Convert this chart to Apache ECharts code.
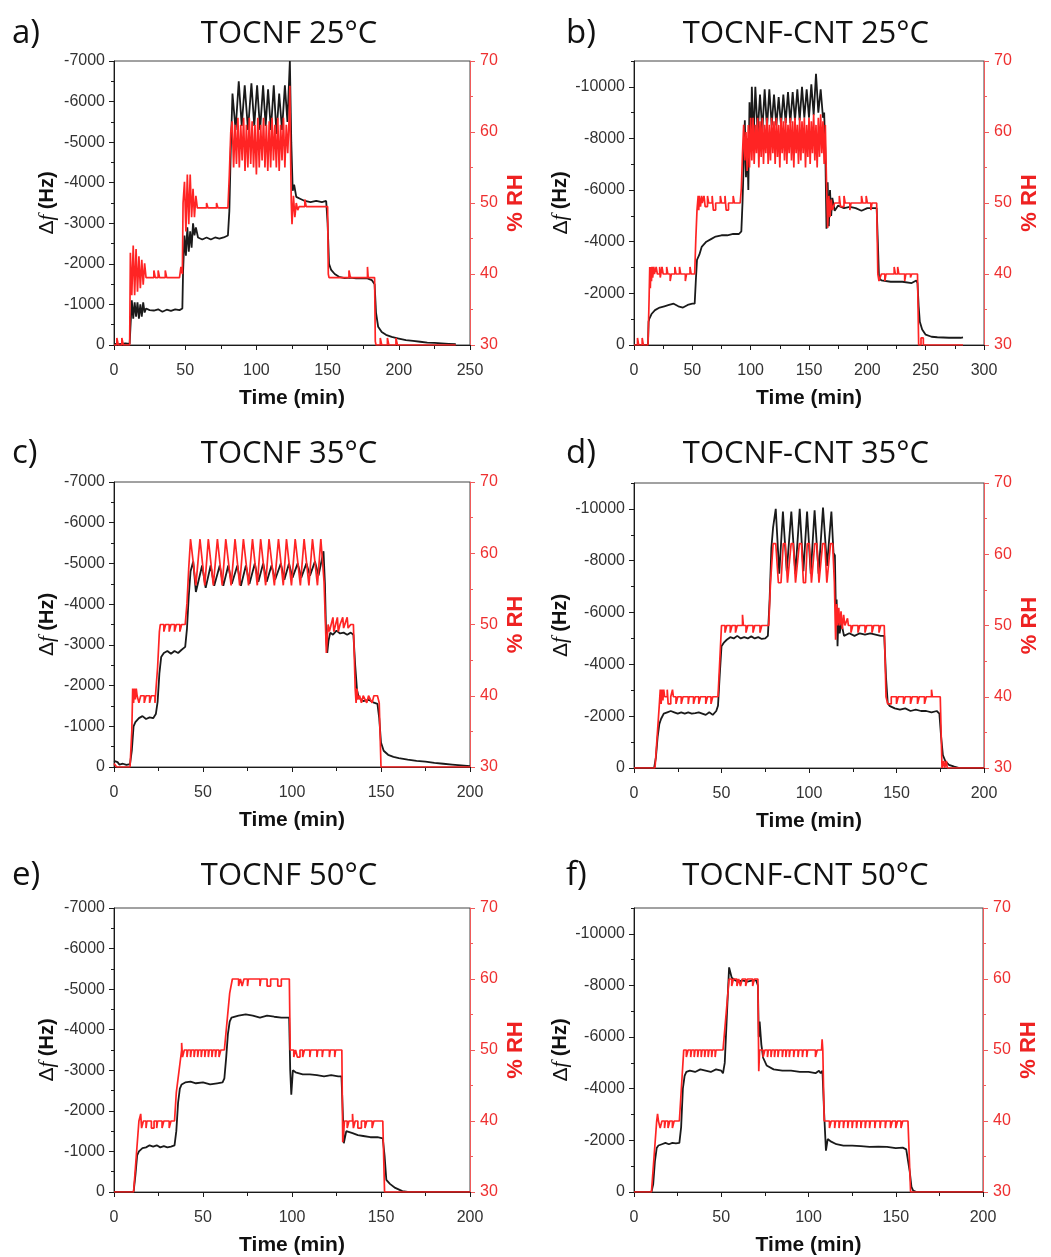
<!DOCTYPE html>
<html>
<head>
<meta charset="utf-8">
<script src="https://cdn.jsdelivr.net/npm/echarts@6/dist/echarts.min.js"></script>
<style>
html,body{margin:0;padding:0;background:#fff;}
#chart{width:1051px;height:1257px;}
</style>
</head>
<body>
<div id="chart"></div>
<script>
// ---------- DATA (time in min, Δf in Hz, RH in %) ----------
const titles = ['TOCNF 25°C','TOCNF-CNT 25°C','TOCNF 35°C','TOCNF-CNT 35°C','TOCNF 50°C','TOCNF-CNT 50°C'];
const letters = ['a)','b)','c)','d)','e)','f)'];
const timeMax = [250,300,200,200,200,200];
const dfMin = [-7000,-11000,-7000,-11000,-7000,-11000];
const cntLabelTicks = [0,-2000,-4000,-6000,-8000,-10000];
const cntMinorTicks = [-1000,-3000,-5000,-7000,-9000,-11000];

const dfA = [[0,-30],[4,-20],[8,-40],[11,-30],[11.5,-400],[12.5,-1100],[13.5,-650],[14.5,-1050],[15.5,-700],[16.5,-1050],[17.5,-650],[18.5,-1000],[19.5,-700],[20.5,-1050],[21.5,-800],[22.5,-900],[25,-860],[28,-850],[31,-880],[34,-820],[37,-870],[40,-840],[43,-880],[46,-860],[48,-900],[48.5,-1800],[49.5,-2700],[50.5,-2200],[51.5,-2900],[52.5,-2300],[53.5,-2800],[54.5,-2400],[55.5,-3000],[56.5,-2700],[57.5,-2900],[59,-2650],[62,-2600],[65,-2650],[68,-2600],[71,-2650],[74,-2620],[77,-2650],[80,-2700],[81,-3300],[82,-4800],[83.2,-6200],[85.4,-5300],[87.6,-6500],[89.7,-5400],[91.8,-6400],[94.1,-5300],[96.5,-6450],[98.5,-5400],[100.5,-6400],[102.6,-5300],[104.7,-6400],[106.5,-5400],[108.2,-6300],[110.2,-5300],[112.2,-6400],[114.1,-5200],[116,-6200],[118,-5300],[120,-6400],[121.8,-5500],[123.5,-7000],[124.5,-5000],[125.5,-3800],[126.5,-3950],[128,-3650],[131,-3600],[134,-3550],[138,-3520],[142,-3550],[146,-3520],[149,-3550],[150,-3000],[151,-2000],[152.5,-1850],[155,-1750],[158,-1680],[162,-1650],[166,-1660],[170,-1640],[174,-1650],[178,-1640],[181,-1600],[183,-1500],[184,-800],[185.5,-450],[188,-320],[191,-250],[195,-200],[200,-160],[205,-120],[210,-100],[215,-80],[220,-60],[225,-50],[230,-40],[235,-30],[240,-20]];
const rhA = [[0,30],[2,30],[2,31],[3,31],[3,30],[5.5,30],[5.5,31],[6.5,31],[6.5,30],[11,30],[11.5,43],[12.5,37],[13.5,44],[14.5,37],[15.5,43.5],[16.5,37.5],[17.5,42.5],[18.5,38],[19.5,42],[20.5,38.5],[21.5,41.5],[22.5,39.5],[28,39.5],[28,40.5],[29,40.5],[29,39.5],[31,39.5],[31,40.5],[32,40.5],[32,39.5],[36,39.5],[36,40.5],[37,40.5],[37,39.5],[46,39.5],[47,41],[48,40],[48.5,50],[49.5,53],[50.5,46],[51.5,54],[52.5,47],[53.5,54],[54.5,48],[55.5,52],[56.5,48],[57.5,51],[58.5,49.3],[65,49.3],[65,50],[66,50],[66,49.3],[72,49.3],[72,50],[73,50],[73,49.3],[80,49.3],[81,54],[82,60],[83,61.5],[84,55],[85,61],[86,55.5],[87,62],[88,55],[89,61],[90,56],[91,62],[92,54.5],[93,61],[94,55],[95,62],[96,55.5],[97,61.5],[98,55],[99,61],[100,54],[101,62],[102,55],[103,61],[104,56],[105,62],[106,55],[107,61],[108,54.5],[109,61.5],[110,55],[111,62],[112,56],[113,61],[114,55],[115,62],[116,54.5],[117,61],[118,56],[119,62],[120,55],[121,61],[122,57],[123,62],[123.5,66.5],[124,57],[124.5,50],[125,47],[126,51],[127,48],[128,50],[129,49],[130,49.5],[134,49.5],[134,50.5],[135,50.5],[135,49.5],[150,49.5],[150.5,40],[151,39.5],[165,39.5],[165,40.5],[166,40.5],[166,39.5],[178,39.5],[178,41],[178.5,41],[178.5,39.5],[183,39.5],[183.5,30.5],[184,30],[187,30],[187,31],[188,31],[188,30],[192,30],[192,31],[193,31],[193,30],[198,30],[198,31],[199,31],[199,30],[240,30]];

const dfB = [[0,0],[12,0],[12.5,-900],[13,-1000],[15,-1200],[18,-1350],[22,-1450],[26,-1500],[30,-1550],[34,-1600],[38,-1500],[42,-1450],[46,-1550],[50,-1600],[52,-1600],[53,-2500],[54,-3300],[56,-3500],[58,-3800],[62,-4000],[66,-4100],[70,-4200],[75,-4250],[80,-4250],[85,-4300],[90,-4300],[92,-4400],[93,-5500],[94,-7000],[95,-8700],[96,-6500],[97,-8000],[98,-6000],[99,-9400],[100,-7500],[101,-10000],[102.5,-8000],[104,-10000],[106,-8200],[108,-9700],[110,-8300],[112,-9900],[114,-8400],[116,-9900],[118,-8500],[120,-9700],[122,-8500],[124,-9600],[126,-8500],[128,-9700],[130,-8600],[132,-9800],[134,-8600],[136,-9800],[138,-8700],[140,-9900],[142,-8700],[144,-10000],[146,-8800],[148,-9900],[150,-8800],[152,-10100],[154,-8900],[156,-10500],[158,-9000],[160,-9900],[162,-8800],[163,-9000],[164,-7500],[165,-4500],[166,-6300],[167,-4600],[168,-6000],[169,-5000],[170,-5700],[172,-5200],[175,-5400],[180,-5300],[185,-5350],[190,-5300],[195,-5200],[200,-5300],[205,-5300],[208,-5300],[209,-4000],[210,-2600],[212,-2500],[220,-2450],[230,-2450],[238,-2400],[242,-2500],[243,-2400],[244,-1500],[245,-900],[247,-600],[250,-400],[255,-320],[260,-300],[270,-280],[280,-280],[282,-300]];
const rhB = [[0,30],[3,30],[3,31],[4,31],[4,30],[7,30],[7,31],[8,31],[8,30],[12,30],[13,37],[13.5,41],[14,38],[14.5,41],[15,39],[15.5,41],[16,39.5],[17,41],[17.5,40],[19,40],[19,41],[20,41],[20,40],[22,40],[22,41],[22.5,41],[22.5,39.5],[24,39.5],[24,41],[25,41],[25,40],[28,40],[28,41],[29,41],[29,40],[31,40],[31,39],[32,39],[32,40],[35,40],[35,41],[36,41],[36,40],[39,40],[39,41],[40,41],[40,40],[44,40],[44,39],[45,39],[45,40],[48,40],[48,41],[49,41],[49,40],[52,40],[53,45],[54,49],[55,51],[55.5,49],[56,51],[57,49.5],[58,51],[58.5,50],[60,50],[60,51],[61,51],[61,49.5],[63,49.5],[63,51],[64,51],[64,50],[67,50],[67,51],[68,51],[68,49],[70,49],[70,50],[74,50],[74,51],[75,51],[75,50],[78,50],[78,51],[79,51],[79,49],[81,49],[81,50],[85,50],[85,51],[86,51],[86,50],[91,50],[92,52],[93,57],[94,61],[95,56],[96,60],[97,54.5],[98,61],[99,55],[100,62],[101,56],[102,62],[103,55.5],[104,61],[105,57],[106,62],[107,55],[108,61.5],[109,56.5],[110,62],[111,55.5],[112,61],[113,57],[114,62],[115,55.5],[116,61],[117,56],[118,62],[119,57],[120,61.5],[121,55.5],[122,62],[123,56.5],[124,61],[125,55],[126,62],[127,57],[128,61.5],[129,56],[130,62],[131,55.5],[132,61],[133,57],[134,62],[135,56],[136,61.5],[137,55],[138,62],[139,57],[140,61],[141,55.5],[142,62],[143,56],[144,61.5],[145,57],[146,62],[147,55],[148,61],[149,56.5],[150,62],[151,55.5],[152,61.5],[153,57],[154,62.5],[155,56],[156,61],[157,55],[158,62],[159,56.5],[160,62.5],[161,57],[162,61.5],[163,55.5],[164,61],[165,53],[166,46.5],[167,51],[168,48],[169,50.5],[170,49],[172,50],[176,50],[176,51],[177,51],[177,49.5],[180,49.5],[180,51],[181,51],[181,50],[185,50],[185,49],[186,49],[186,50],[195,50],[195,51],[196,51],[196,50],[199,50],[199,51],[200,51],[200,50],[203,50],[203,49],[204,49],[204,50],[208,50],[209,40],[210,39],[212,40],[215,40],[215,39],[216,39],[216,40],[223,40],[223,41],[224,41],[224,40],[226,40],[226,41],[227,41],[227,40],[232,40],[232,39],[233,39],[233,40],[237,40],[237,39.5],[238,39.5],[238,40],[243,40],[244,30],[246,30],[246,31],[248,31],[248,30],[282,30]];

const dfC = [[0,-150],[1,-180],[2,-120],[3,-60],[5,-80],[7,-50],[9,-70],[10,-400],[11,-1000],[12,-1100],[14,-1200],[16,-1250],[18,-1180],[20,-1220],[22,-1200],[23.5,-1300],[24.5,-1600],[25.5,-2300],[26.5,-2700],[28,-2800],[30,-2850],[32,-2780],[34,-2850],[36,-2800],[38,-2880],[40,-2950],[41,-3400],[42,-4200],[43,-4800],[44.5,-5050],[46,-4300],[49.5,-4950],[51.5,-4400],[54.3,-4950],[56.3,-4450],[59.4,-4950],[61.4,-4450],[64.2,-4950],[66.2,-4500],[69.3,-4950],[71.3,-4450],[74.1,-4950],[76.1,-4500],[79.1,-5000],[81.1,-4550],[83.8,-5000],[85.8,-4550],[88.5,-4950],[90.5,-4600],[93.7,-5000],[95.7,-4600],[98.3,-5000],[100.3,-4650],[103.2,-5000],[105.2,-4650],[108.1,-5000],[110.1,-4700],[112.9,-5050],[114.9,-4700],[117.7,-5300],[118.5,-4500],[119.2,-3200],[119.8,-2800],[120.5,-3100],[121.5,-3300],[123,-3250],[125,-3350],[127,-3280],[129,-3300],[131,-3250],[133,-3300],[134.5,-3250],[135.5,-2500],[136.5,-1900],[137.5,-1700],[140,-1620],[143,-1650],[146,-1580],[148,-1550],[149,-1200],[150,-600],[151.5,-400],[154,-300],[157,-250],[160,-220],[165,-180],[170,-150],[175,-130],[180,-100],[185,-80],[190,-60],[195,-40],[200,-20]];
const rhC = [[0,30.5],[1,30.5],[1.5,30],[9,30],[10,35],[10.5,41],[11,39],[11.5,41],[12,39.5],[12.5,41],[13,40],[14,40],[14,39],[15,39],[15,40],[17,40],[17,39],[18,39],[18,40],[20,40],[20,39],[21,39],[21,40],[23,40],[23,39],[24,39],[24.5,44],[25.5,49],[26,50],[28,50],[28,49],[29,49],[29,50],[31,50],[31,49],[32,49],[32,50],[34,50],[34,49],[35,49],[35,50],[37,50],[37,49],[38,49],[38,50],[40,50],[41,53],[42,58],[43,62],[44,62],[46,55.5],[48.3,62],[49,62],[51,55.5],[53,62],[53.7,62],[55.8,55.5],[58.1,62],[58.8,62],[60.8,55.5],[62.8,62],[63.5,62],[65.8,55.5],[68,62],[68.7,62],[70.6,55.5],[72.7,62],[73.4,62],[75.6,55.5],[77.8,62],[78.5,62],[80.5,55.5],[82.4,62],[83.1,62],[85.2,55.5],[87.1,62],[87.8,62],[90.1,55.5],[92.4,62],[93.1,62],[95.1,55.5],[96.9,62],[97.6,62],[99.7,55.5],[101.8,62],[102.5,62],[104.7,55.5],[106.8,62],[107.5,62],[109.5,55.5],[111.5,62],[112.2,62],[114.3,55.5],[116.2,62],[116.9,62],[118,56],[118.8,50],[119.3,46],[119.8,48],[120.3,50],[121,49],[122,50],[123,51],[123.5,49],[124.5,50],[125.5,51],[126,49],[127,50],[128.5,51],[129,49.5],[131,51],[131.5,49.5],[133,50],[134.5,50],[135.5,41],[136,39],[136.5,41],[137,39.5],[138,40],[139,39],[140,40],[142,39],[143,40],[145,39],[146,40],[148,40],[149,39],[150,30],[200,30]];

const dfD = [[0,0],[11.5,0],[12.5,-400],[13.5,-1200],[14.5,-1700],[15.5,-1900],[17,-2100],[19,-2150],[21,-2200],[23,-2150],[25,-2100],[27,-2150],[29,-2100],[31,-2150],[33,-2100],[35,-2120],[37,-2150],[39,-2100],[41,-2050],[43,-2150],[45,-2050],[47,-2200],[48,-2400],[49,-3600],[50,-4700],[51.5,-4850],[53,-4950],[55,-5050],[57,-5000],[59,-5100],[61,-5000],[63,-5050],[65,-5000],[67,-5080],[69,-5000],[71,-5050],[73,-4980],[75,-5000],[76.5,-5100],[77.5,-6500],[78.5,-8500],[79.5,-9300],[81,-10000],[83,-7500],[85.1,-9900],[87.3,-7600],[89.9,-9900],[92.2,-7500],[94.7,-10000],[96.8,-7600],[98.9,-9900],[101,-7500],[103.2,-9950],[105.5,-7500],[108,-10050],[110.3,-7800],[112.8,-9900],[114,-8300],[114.8,-8200],[115.3,-6200],[115.8,-6500],[116.3,-4700],[116.8,-5800],[117.5,-5200],[118.5,-5600],[120,-5100],[123,-5200],[126,-5100],[129,-5200],[132,-5150],[135,-5200],[138,-5150],[141,-5100],[143,-5100],[144,-3500],[145,-2500],[146,-2400],[149,-2300],[152,-2250],[155,-2300],[158,-2200],[161,-2250],[164,-2200],[167,-2200],[170,-2150],[173,-2200],[174.5,-2100],[175.5,-1200],[176.5,-500],[178,-250],[180,-120],[183,-50],[186,0],[200,0]];
const rhD = [[0,30],[12,30],[14.5,39],[15,41],[15.5,39],[16,41],[16.5,39.5],[17,41],[17.5,40],[19,40],[19,41],[19.5,41],[19.5,39],[21,39],[21,40],[22,40],[22,41],[22.5,41],[22.5,40],[24,40],[24,39],[25,39],[25,40],[27,40],[27,39],[28,39],[28,40],[31,40],[31,39],[31.5,39],[31.5,40],[34,40],[34,39],[35,39],[35,40],[37,40],[37,39],[38,39],[38,40],[41,40],[41,39],[42,39],[42,40],[44,40],[44,39],[45,39],[45,40],[48,40],[49,45],[50,50],[52,50],[52,49],[53,49],[53,50],[55,50],[55,49],[56,49],[56,50],[58,50],[58,49],[59,49],[59,50],[62,50],[62,51.5],[62.5,51.5],[62.5,50],[64,50],[64,49],[65,49],[65,50],[68,50],[68,49],[69,49],[69,50],[72,50],[72,49],[73,49],[73,50],[77,50],[78,56],[79.5,61.5],[81,61.5],[82.5,56],[84,56],[85.3,61.5],[86.5,61.5],[87.7,56],[88.8,56],[89.8,61.5],[91,61.5],[92.3,56],[93.3,56],[94.5,61.5],[95.7,61.5],[96.8,56],[98,56],[99,61.5],[100.2,61.5],[101.4,56],[102.4,56],[103.3,61.5],[104.5,61.5],[105.7,56],[106.8,56],[107.8,61.5],[109,61.5],[110.2,56],[111.2,56],[112.3,61.5],[113.5,61.5],[114.5,56],[115.2,48],[115.8,53],[116.4,50],[117,52.5],[117.6,50],[118.3,52],[119,49.5],[119.8,51.5],[120.5,50],[122,51],[122.5,50],[124,50],[124,49],[125,49],[125,50],[128,50],[128,49],[129,49],[129,50],[132,50],[132,49],[133,49],[133,50],[136,50],[136,49],[137,49],[137,50],[140,50],[140,49],[141,49],[141,50],[143,50],[144,40],[145,39],[147,39],[147,40],[150,40],[150,39],[151,39],[151,40],[154,40],[154,39],[155,39],[155,40],[158,40],[158,39],[159,39],[159,40],[162,40],[162,39],[163,39],[163,40],[166,40],[166,39],[167,39],[167,40],[170,40],[170,41],[170.5,41],[170.5,40],[175,40],[176,30],[177,31],[177.5,30],[178.5,31],[179,30],[200,30]];

const dfE = [[0,0],[11,0],[12,-400],[13,-900],[14,-1000],[16,-1080],[18,-1100],[20,-1150],[22,-1120],[24,-1150],[26,-1100],[28,-1130],[30,-1100],[32,-1120],[34,-1150],[35,-1500],[36,-2200],[37,-2550],[38,-2650],[40,-2700],[43,-2720],[46,-2680],[50,-2700],[54,-2650],[58,-2680],[61,-2700],[62,-2800],[63,-3300],[64,-3900],[65,-4200],[66,-4300],[70,-4350],[74,-4380],[78,-4350],[82,-4300],[86,-4350],[90,-4320],[94,-4300],[98.4,-4300],[99,-3000],[99.6,-2400],[100.5,-3000],[102,-2950],[106,-2900],[110,-2900],[114,-2880],[118,-2850],[122,-2880],[126,-2850],[127.8,-2850],[128.5,-2000],[129.1,-1200],[130.5,-1500],[131,-1500],[134,-1450],[137,-1400],[140,-1380],[144,-1350],[148,-1350],[151,-1320],[152,-900],[153,-300],[155,-200],[158,-100],[162,-20],[165,0],[200,0]];
const rhE = [[0,30],[11,30],[14,40],[15,40],[15,41],[15.5,41],[15.5,39],[16.5,39],[16.5,40],[18,40],[18,39],[18.5,39],[18.5,40],[21,40],[21,39],[22.5,39],[22.5,40],[24,40],[24,39],[24.5,39],[24.5,40],[27,40],[27,39],[28,39],[28,40],[31,40],[31,39],[32,39],[32,40],[34,40],[35,44],[38,50],[38,51],[38.5,51],[38.5,49],[39.5,49],[39.5,50],[41,50],[41,49],[41.5,49],[41.5,50],[43,50],[43,49],[43.5,49],[43.5,50],[45,50],[45,49],[45.5,49],[45.5,50],[47,50],[47,49],[47.5,49],[47.5,50],[49,50],[49,49],[49.5,49],[49.5,50],[51,50],[51,49],[51.5,49],[51.5,50],[53,50],[53,49],[53.5,49],[53.5,50],[55,50],[55,49],[55.5,49],[55.5,50],[57,50],[57,49],[57.5,49],[57.5,50],[59,50],[59,49],[60,49],[60,50],[62,50],[65,58],[66.5,60],[70,60],[70,59],[71,59],[71,60],[72,60],[72,59],[73,59],[73,60],[75,60],[75,59],[75.5,59],[75.5,60],[82,60],[82,59],[82.5,59],[82.5,60],[86,60],[86,59],[88,59],[88,60],[92,60],[92,59],[94,59],[94,60],[98.5,60],[99,50],[100,50],[101,50],[101,49],[102,49],[102,50],[103,50],[103,49],[104.5,49],[104.5,50],[106,50],[106,49],[107,49],[107,50],[110,50],[110,49],[110.5,49],[110.5,50],[114,50],[114,49],[114.5,49],[114.5,50],[117,50],[117,49],[117.5,49],[117.5,50],[121,50],[121,49],[121.5,49],[121.5,50],[124,50],[124,49],[124.5,49],[124.5,50],[128,50],[128.5,37],[129.5,40],[131,40],[131,39],[132,39],[132,40],[134,40],[134,41],[134.5,41],[134.5,39],[135.5,39],[135.5,40],[137,40],[137,39],[139,39],[139,40],[141,40],[141,39],[142,39],[142,40],[145,40],[145,39],[146,39],[146,40],[151,40],[152,30],[200,30]];

const dfF = [[0,0],[10,0],[11,-300],[12,-1200],[13,-1700],[14,-1800],[16,-1850],[18,-1900],[20,-1850],[22,-1900],[24,-1880],[26,-1900],[27,-2500],[28,-4000],[29,-4500],[30,-4650],[32,-4700],[35,-4650],[38,-4750],[41,-4700],[44,-4650],[47,-4750],[50,-4700],[51,-4600],[52,-5000],[53,-6500],[54,-8000],[54.5,-8700],[56,-8300],[58,-8200],[60,-8150],[62,-8200],[65,-8150],[68,-8200],[70,-8200],[71,-8000],[71.5,-6000],[72,-6600],[73,-5700],[74,-5200],[76,-4900],[80,-4750],[85,-4700],[90,-4700],[95,-4650],[100,-4650],[104,-4600],[106,-4700],[107,-4600],[108,-4700],[109,-3000],[110,-1600],[111,-2050],[113,-1950],[116,-1850],[120,-1800],[125,-1800],[130,-1780],[135,-1750],[140,-1760],[145,-1750],[150,-1700],[154,-1720],[156,-1650],[157,-1700],[158,-800],[159,-200],[160,-50],[162,0],[200,0]];
const rhF = [[0,30],[10,30],[13,40],[13.5,40],[13.5,41],[14,41],[14,40],[15,40],[15,39],[16,39],[16,40],[17.5,40],[17.5,39],[18,39],[18,40],[19.5,40],[19.5,39],[20.5,39],[20.5,40],[22,40],[22,39],[23,39],[23,40],[26,40],[28.5,50],[30,50],[30,49],[31,49],[31,50],[32.5,50],[32.5,49],[33,49],[33,50],[34.5,50],[34.5,49],[35,49],[35,50],[36.5,50],[36.5,49],[37,49],[37,50],[38.5,50],[38.5,49],[39,49],[39,50],[40.5,50],[40.5,49],[41,49],[41,50],[42.5,50],[42.5,49],[43,49],[43,50],[44.5,50],[44.5,49],[45,49],[45,50],[46.5,50],[46.5,49],[47,49],[47,50],[51,50],[54.5,60],[56,60],[56,59],[57,59],[57,60],[59,60],[59,59],[60,59],[60,60],[61,60],[61,59],[62,59],[62,60],[64,60],[64,59],[65,59],[65,60],[68,60],[68,59],[69,59],[69,60],[71,60],[71.5,47],[72,50],[74,50],[74,49],[75,49],[75,50],[76.5,50],[76.5,49],[77,49],[77,50],[78.5,50],[78.5,49],[79,49],[79,50],[80.5,50],[80.5,49],[81,49],[81,50],[82.5,50],[82.5,49],[83,49],[83,50],[85,50],[85,49],[85.5,49],[85.5,50],[87,50],[87,49],[87.5,49],[87.5,50],[89,50],[89,49],[89.5,49],[89.5,50],[91.5,50],[91.5,49],[92,49],[92,50],[94,50],[94,49],[94.5,49],[94.5,50],[96.5,50],[96.5,49],[97,49],[97,50],[99,50],[99,49],[99.5,49],[99.5,50],[104,50],[104,49],[105,49],[105,50],[107.5,50],[107.8,51.5],[108.2,50],[109,40],[110,40],[112,40],[112,39],[113,39],[113,40],[115,40],[115,39],[115.5,39],[115.5,40],[117.5,40],[117.5,39],[118,39],[118,40],[120,40],[120,39],[120.5,39],[120.5,40],[122.5,40],[122.5,39],[123,39],[123,40],[125,40],[125,39],[125.5,39],[125.5,40],[127.5,40],[127.5,39],[128,39],[128,40],[130,40],[130,39],[130.5,39],[130.5,40],[132.5,40],[132.5,39],[133,39],[133,40],[135,40],[135,39],[135.5,39],[135.5,40],[138,40],[138,39],[138.5,39],[138.5,40],[141,40],[141,39],[141.5,39],[141.5,40],[144,40],[144,39],[144.5,39],[144.5,40],[147,40],[147,39],[148,39],[148,40],[150,40],[150,39],[151,39],[151,40],[153,40],[153,39],[154,39],[154,40],[157,40],[158.5,30],[200,30]];

const dfSeries = [dfA,dfB,dfC,dfD,dfE,dfF];
const rhSeries = [rhA,rhB,rhC,rhD,rhE,rhF];

// ---------- LAYOUT ----------
const boxes = [
  {left:114, top:61,  width:356, height:284, titleY:33},
  {left:634, top:61,  width:350, height:284, titleY:33},
  {left:114, top:482, width:356, height:285, titleY:453},
  {left:634, top:483, width:350, height:285, titleY:453},
  {left:114, top:908, width:356, height:285, titleY:875},
  {left:634, top:908, width:349, height:284, titleY:875}
];

const BLACK = '#1a1a1a';
const RED_LINE = '#ff2424';
const RED_AXIS = '#f05a5a';
const RED_TEXT = '#ee3030';
const tickFont = 'Liberation Sans';

const option = {animation:false, backgroundColor:'#fff', grid:[], xAxis:[], yAxis:[], series:[], graphic:[]};

boxes.forEach((b, i) => {
  option.grid.push({left:b.left, top:b.top, width:b.width, height:b.height, show:true, borderColor:'#444', borderWidth:1, backgroundColor:'rgba(0,0,0,0)'});
  option.xAxis.push({
    gridIndex:i, type:'value', min:0, max:timeMax[i], interval:50,
    axisLine:{show:true, onZero:false, lineStyle:{color:BLACK, width:1}},
    axisTick:{show:true, length:5, lineStyle:{color:BLACK}},
    minorTick:{show:true, splitNumber:2, length:4, lineStyle:{color:BLACK}},
    splitLine:{show:false}, minorSplitLine:{show:false},
    axisLabel:{fontSize:16, color:'#333', margin:18, fontFamily:tickFont},
    name:'Time (min)', nameLocation:'middle', nameGap:43,
    nameTextStyle:{fontSize:21, fontWeight:'bold', color:'#111', fontFamily:tickFont}
  });
  const isCnt = dfMin[i] === -11000;
  const leftIdx = option.yAxis.length;
  const left = {
    gridIndex:i, type:'value', position:'left', inverse:true, min:dfMin[i], max:0, interval:1000,
    axisLine:{show:true, onZero:false, lineStyle:{color:BLACK, width:1}},
    axisTick:{show:true, length:5, lineStyle:{color:BLACK}},
    minorTick:{show:!isCnt, splitNumber:2, length:3, lineStyle:{color:BLACK}},
    splitLine:{show:false}, minorSplitLine:{show:false},
    axisLabel:{fontSize:16, color:'#333', margin:9, fontFamily:tickFont, formatter:v => String(v)},
    name:'{n|Δ}{i|f}{b| (Hz)}', nameLocation:'middle', nameRotate:90, nameGap:56,
    nameTextStyle:{color:'#111', rich:{
      n:{fontSize:21, fontFamily:tickFont, color:'#111'},
      i:{fontSize:21, fontStyle:'italic', fontFamily:'Liberation Serif', color:'#111'},
      b:{fontSize:20, fontWeight:'bold', fontFamily:tickFont, color:'#111'}}}
  };
  if (isCnt) {
    left.axisLabel.customValues = cntLabelTicks;
    left.axisTick.customValues = cntLabelTicks;
  }
  option.yAxis.push(left);
  if (isCnt) {
    option.yAxis.push({
      gridIndex:i, type:'value', position:'left', offset:0, inverse:true, min:dfMin[i], max:0, interval:1000,
      axisLine:{show:false}, splitLine:{show:false},
      axisTick:{show:true, length:3, customValues:cntMinorTicks, lineStyle:{color:BLACK}},
      axisLabel:{show:false}
    });
  }
  const rightIdx = option.yAxis.length;
  option.yAxis.push({
    gridIndex:i, type:'value', position:'right', min:30, max:70, interval:10,
    axisLine:{show:true, onZero:false, lineStyle:{color:RED_AXIS, width:1}},
    axisTick:{show:true, length:5, lineStyle:{color:RED_AXIS}},
    minorTick:{show:true, splitNumber:2, length:3, lineStyle:{color:RED_AXIS}},
    splitLine:{show:false}, minorSplitLine:{show:false},
    axisLabel:{fontSize:16, color:RED_TEXT, margin:10, fontFamily:tickFont},
    name:'% RH', nameLocation:'middle', nameRotate:90, nameGap:35,
    nameTextStyle:{fontSize:22, fontWeight:'bold', color:'#ee2222', fontFamily:tickFont}
  });
  option.series.push({
    type:'line', xAxisIndex:i, yAxisIndex:leftIdx, data:dfSeries[i],
    symbol:'none', showSymbol:false, lineStyle:{color:BLACK, width:1.8}, z:2
  });
  option.series.push({
    type:'line', xAxisIndex:i, yAxisIndex:rightIdx, data:rhSeries[i],
    symbol:'none', showSymbol:false, lineStyle:{color:RED_LINE, width:1.7}, z:3
  });
  option.graphic.push({
    type:'text', x: b.left + b.width/2 - 3, y: b.titleY + 1,
    style:{text:titles[i], font:'31px "Open Sans"', fill:'#111', align:'center', verticalAlign:'middle', textAlign:'center', textVerticalAlign:'middle'}
  });
  option.graphic.push({
    type:'text', x: (i % 2 === 0) ? 12 : 566, y: b.titleY + 1,
    style:{text:letters[i], font:'33px "Open Sans"', fill:'#111', align:'left', verticalAlign:'middle', textAlign:'left', textVerticalAlign:'middle'}
  });
});

const chart = echarts.init(document.getElementById('chart'), null, {renderer:'canvas'});
chart.setOption(option);
</script>
</body>
</html>
